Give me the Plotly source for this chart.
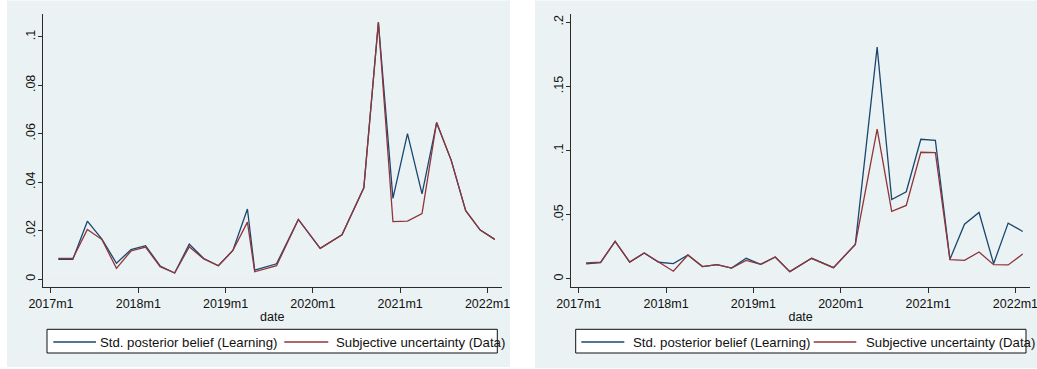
import plotly.graph_objects as go

# ---- data -------------------------------------------------------------
left_dates = ["2017m2", "2017m4", "2017m6", "2017m8", "2017m10", "2017m12",
              "2018m2", "2018m4", "2018m6", "2018m8", "2018m10", "2018m12",
              "2019m2", "2019m4", "2019m5", "2019m8", "2019m11", "2020m2",
              "2020m5", "2020m8", "2020m10", "2020m12", "2021m2", "2021m4",
              "2021m6", "2021m8", "2021m10", "2021m12", "2022m2"]
left_learning = [0.0081, 0.0081, 0.0239, 0.0165, 0.0065, 0.0122, 0.0138, 0.0054,
                 0.0025, 0.0144, 0.0085, 0.0055, 0.0118, 0.0289, 0.0037, 0.0063,
                 0.0246, 0.0127, 0.0183, 0.0377, 0.1060, 0.0333, 0.0600, 0.0352,
                 0.0645, 0.0491, 0.0282, 0.0202, 0.0164]
left_data = [0.0085, 0.0085, 0.0205, 0.0163, 0.0044, 0.0116, 0.0132, 0.0051,
             0.0025, 0.0133, 0.0083, 0.0055, 0.0118, 0.0235, 0.0030, 0.0055,
             0.0246, 0.0127, 0.0183, 0.0377, 0.1060, 0.0237, 0.0239, 0.0270,
             0.0647, 0.0491, 0.0282, 0.0202, 0.0164]

right_dates = ["2017m2", "2017m4", "2017m6", "2017m8", "2017m10", "2017m12",
               "2018m2", "2018m4", "2018m6", "2018m8", "2018m10", "2018m12",
               "2019m2", "2019m4", "2019m6", "2019m9", "2019m12", "2020m3",
               "2020m6", "2020m8", "2020m10", "2020m12", "2021m2", "2021m4",
               "2021m6", "2021m8", "2021m10", "2021m12", "2022m2"]
right_learning = [0.0117, 0.0127, 0.0293, 0.0132, 0.0202, 0.0130, 0.0119, 0.0187,
                  0.0096, 0.0112, 0.0085, 0.0161, 0.0114, 0.0171, 0.0057, 0.0161,
                  0.0088, 0.0269, 0.1806, 0.0619, 0.0679, 0.1088, 0.1080, 0.0153,
                  0.0427, 0.0518, 0.0119, 0.0435, 0.0370]
right_data = [0.0125, 0.0130, 0.0293, 0.0132, 0.0202, 0.0130, 0.0060, 0.0187,
              0.0096, 0.0112, 0.0085, 0.0145, 0.0114, 0.0171, 0.0057, 0.0161,
              0.0088, 0.0269, 0.1168, 0.0526, 0.0573, 0.0987, 0.0984, 0.0150,
              0.0145, 0.0210, 0.0111, 0.0109, 0.0194]

x_tick_labels = ["2017m1", "2018m1", "2019m1", "2020m1", "2021m1", "2022m1"]
left_y_ticks = [0, 0.02, 0.04, 0.06, 0.08, 0.1]
left_y_labels = ["0", ".02", ".04", ".06", ".08", ".1"]
right_y_ticks = [0, 0.05, 0.1, 0.15, 0.2]
right_y_labels = ["0", ".05", ".1", ".15", ".2"]

series_names = ["Std. posterior belief (Learning)", "Subjective uncertainty (Data)"]

# ---- styling ----------------------------------------------------------
W, H = 1037, 369
NAVY = "#1A476F"
MAROON = "#90353B"
REGION = "#EAF2F3"
GRID = "#E8F0F2"
AXIS = "#2b2b2b"
TEXT = "#111"
FONT = "Liberation Sans, Arial, sans-serif"
TICK_SIZE = 12.5
LEGEND_SIZE = 13.2


def monthly(label):
    """Stata-style %tm label -> months since 2017m1."""
    y, m = label.split("m")
    return (int(y) - 2017) * 12 + int(m) - 1


def px(x):
    return x / W


def py(y):
    return 1 - y / H


fig = go.Figure()

panels = [
    dict(dates=left_dates, a=left_learning, b=left_data, xa="x", ya="y"),
    dict(dates=right_dates, a=right_learning, b=right_data, xa="x2", ya="y2"),
]
for p in panels:
    xs = [monthly(d) for d in p["dates"]]
    fig.add_trace(go.Scatter(x=xs, y=p["a"], mode="lines", name=series_names[0],
                             line=dict(color=NAVY, width=1.3),
                             xaxis=p["xa"], yaxis=p["ya"]))
    fig.add_trace(go.Scatter(x=xs, y=p["b"], mode="lines", name=series_names[1],
                             line=dict(color=MAROON, width=1.3),
                             xaxis=p["xa"], yaxis=p["ya"]))

tickvals_x = [monthly(t) for t in x_tick_labels]


def xaxis(domain, rng, anchor):
    return dict(domain=domain, range=rng, tickvals=tickvals_x, ticktext=x_tick_labels,
                ticks="outside", ticklen=5, tickwidth=1, tickcolor=AXIS,
                showline=True, linecolor=AXIS, linewidth=1, showgrid=False,
                zeroline=False, anchor=anchor, automargin=False,
                ticklabeloverflow="allow",
                tickfont=dict(family=FONT, size=TICK_SIZE, color=TEXT),
                title=dict(text="date", font=dict(family=FONT, size=TICK_SIZE, color=TEXT),
                           standoff=1))


def yaxis(domain, rng, vals, labels, anchor):
    return dict(domain=domain, range=rng, tickvals=vals, ticktext=labels,
                tickangle=-90, ticks="outside", ticklen=4, tickwidth=1, tickcolor=AXIS,
                ticklabelstandoff=-2, automargin=False, ticklabeloverflow="allow",
                showline=True, linecolor=AXIS, linewidth=1, showgrid=True,
                gridcolor=GRID, gridwidth=1, zeroline=False, anchor=anchor,
                tickfont=dict(family=FONT, size=TICK_SIZE, color=TEXT))


plot_y = [py(287.3), py(14)]
fig.update_layout(
    width=W, height=H,
    margin=dict(l=0, r=0, t=0, b=0, autoexpand=False),
    paper_bgcolor="white", plot_bgcolor="white",
    showlegend=False,
    xaxis=xaxis([px(42.7), px(501.7)], [-1.14, 61.95], "y"),
    yaxis=yaxis(plot_y, [-0.0034, 0.1094], left_y_ticks, left_y_labels, "x"),
    xaxis2=xaxis([px(571.3), px(1030)], [-1.02, 62.0], "y2"),
    yaxis2=yaxis(plot_y, [-0.0065, 0.2064], right_y_ticks, right_y_labels, "x2"),
)

shapes = []
annotations = []
# graph regions
for x0, x1, y1 in [(7, 510, 367), (535, W, 368)]:
    shapes.append(dict(type="rect", xref="paper", yref="paper", layer="below",
                       x0=px(x0), x1=px(x1), y0=py(y1), y1=py(0.5),
                       fillcolor=REGION, line=dict(width=0)))

# legends, one per panel
legend_boxes = [
    dict(box=(47, 497.3), s1=(53.3, 96), t1=98, s2=(284.3, 328.3), t2=334.3),
    dict(box=(575.7, 1026), s1=(581.3, 624.3), t1=631, s2=(813.7, 856.3), t2=863.7),
]
for lb in legend_boxes:
    bx0, bx1 = lb["box"]
    shapes.append(dict(type="rect", xref="paper", yref="paper", layer="below",
                       x0=px(bx0), x1=px(bx1), y0=py(353), y1=py(329.3),
                       fillcolor="white", line=dict(width=0)))
for lb in legend_boxes:
    bx0, bx1 = lb["box"]
    shapes.append(dict(type="rect", xref="paper", yref="paper", layer="above",
                       x0=px(bx0), x1=px(bx1), y0=py(353), y1=py(329.3),
                       fillcolor="rgba(0,0,0,0)", line=dict(color=TEXT, width=1)))
    for (sx0, sx1), col, tx, name in [(lb["s1"], NAVY, lb["t1"], series_names[0]),
                                      (lb["s2"], MAROON, lb["t2"], series_names[1])]:
        shapes.append(dict(type="line", xref="paper", yref="paper", layer="above",
                           x0=px(sx0), x1=px(sx1), y0=py(342), y1=py(342),
                           line=dict(color=col, width=1.3)))
        annotations.append(dict(xref="paper", yref="paper", x=px(tx), y=py(342),
                                xanchor="left", yanchor="middle", showarrow=False,
                                text=name, font=dict(family=FONT, size=LEGEND_SIZE,
                                                     color=TEXT)))

fig.update_layout(shapes=shapes, annotations=annotations)
fig.write_html("out.html")
